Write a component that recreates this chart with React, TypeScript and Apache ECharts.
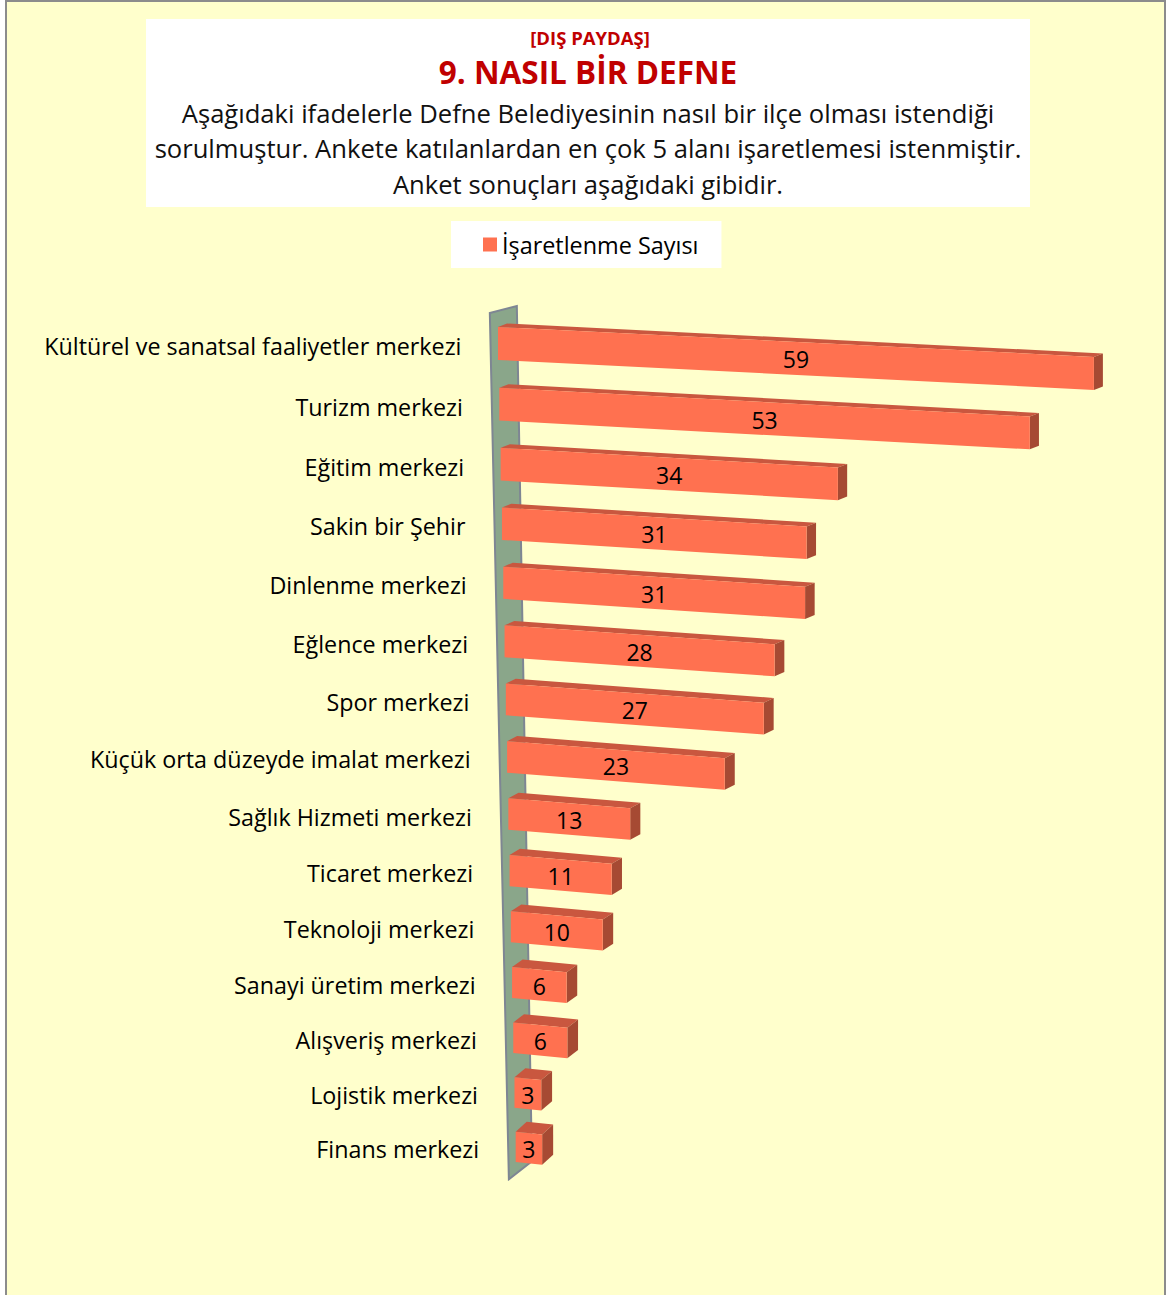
import React, { useEffect, useRef } from "react";
import * as echarts from "echarts";

const categories = [
  "Kültürel ve sanatsal faaliyetler merkezi",
  "Turizm merkezi",
  "Eğitim merkezi",
  "Sakin bir Şehir",
  "Dinlenme merkezi",
  "Eğlence merkezi",
  "Spor merkezi",
  "Küçük orta düzeyde imalat merkezi",
  "Sağlık Hizmeti merkezi",
  "Ticaret merkezi",
  "Teknoloji merkezi",
  "Sanayi üretim merkezi",
  "Alışveriş merkezi",
  "Lojistik merkezi",
  "Finans merkezi",
];
const values = [59, 53, 34, 31, 31, 28, 27, 23, 13, 11, 10, 6, 6, 3, 3];
const seriesName = "İşaretlenme Sayısı";
const headTag = "[DIŞ PAYDAŞ]";
const headTitle = "9. NASIL BİR DEFNE";
const headLines = [
  "Aşağıdaki ifadelerle Defne Belediyesinin nasıl bir ilçe olması istendiği",
  "sorulmuştur. Ankete katılanlardan en çok 5 alanı işaretlemesi istenmiştir.",
  "Anket sonuçları aşağıdaki gibidir.",
];

const FONT = "'Open Sans', 'Noto Sans', sans-serif";
const FRONT = "#FF7150";
const TOP = "#C9573F";
const SIDE = "#A64A33";

// perspective constants
const PB = 60.85; // px per row near the front
const PC = 0.00432; // row foreshortening
const XSHIFT = 0.022; // wall lean
const LEN_SHRINK = 0.009;
const SLOPE_Y0 = -395;
const SLOPE_D = 14700;

const rowY = (y0: number, v: number) => y0 + (PB * v) / (1 + PC * v);

export default function App() {
  const ref = useRef<HTMLDivElement>(null);
  useEffect(() => {
    if (!ref.current) return;
    const chart = echarts.init(ref.current, undefined, { renderer: "svg" });
    const n = categories.length;

    const option: any = {
      animation: false,
      backgroundColor: "#ffffff",
      grid: { left: 498, width: 606, top: 314.8, height: 861 },
      xAxis: { type: "value", min: 0, max: 60, show: false },
      yAxis: { type: "category", data: categories, inverse: true, show: false },
      legend: {
        data: [seriesName],
        left: 451,
        top: 221,
        backgroundColor: "#ffffff",
        padding: [12, 23, 12, 32],
        icon: "rect",
        itemWidth: 14,
        itemHeight: 14,
        textStyle: { fontSize: 23.4, fontFamily: FONT, color: "#000" },
      },
      graphic: [
        {
          type: "rect",
          z: -10,
          shape: { x: 6, y: 1, width: 1159, height: 1300 },
          style: { fill: "#FFFFCC", stroke: "#8C8C8C", lineWidth: 2 },
        },
        {
          type: "rect",
          z: -9,
          shape: { x: 146, y: 19, width: 884, height: 188 },
          style: { fill: "#ffffff" },
        },
        {
          type: "text",
          x: 590,
          y: 37,
          style: {
            text: headTag,
            align: "center",
            verticalAlign: "middle",
            font: `bold 18.5px ${FONT}`,
            fill: "#C00000",
          },
        },
        {
          type: "text",
          x: 588,
          y: 71.5,
          style: {
            text: headTitle,
            align: "center",
            verticalAlign: "middle",
            font: `bold 31.5px ${FONT}`,
            fill: "#C00000",
          },
        },
        ...headLines.map((t, i) => ({
          type: "text",
          x: 588,
          y: [113.5, 148.5, 184.5][i],
          style: {
            text: t,
            align: "center",
            verticalAlign: "middle",
            font: `25.6px ${FONT}`,
            fill: "#111111",
          },
        })),
      ],
      series: [
        {
          type: "custom",
          name: "wall",
          clip: false,
          silent: true,
          z: 1,
          data: [[0, 0]],
          renderItem: (params: any, api: any) => {
            const first = api.coord([0, 0]);
            const yT = rowY(first[1], -0.5);
            const yB = rowY(first[1], n - 1 + 0.6);
            const wl = (y: number) => first[0] - 7.5 + XSHIFT * (y - first[1]);
            return {
              type: "polygon",
              shape: {
                points: [
                  [wl(yT), yT],
                  [wl(yT) + 27, yT - 7],
                  [wl(yB) + 23, yB - 18],
                  [wl(yB), yB],
                ],
              },
              style: { fill: "#8AA68A", stroke: "#7E8693", lineWidth: 2 },
            };
          },
        },
        {
          type: "custom",
          name: seriesName,
          clip: false,
          z: 2,
          itemStyle: { color: FRONT },
          encode: { x: 0, y: 1 },
          data: values.map((v, i) => [v, i]),
          renderItem: (params: any, api: any) => {
            const idx = api.value(1);
            const val = api.value(0);
            const first = api.coord([0, 0]);
            const p0 = api.coord([0, idx]);
            const p1 = api.coord([val, idx]);
            const band = api.size([0, 1])[1];
            const v = (p0[1] - first[1]) / band;
            const yc = rowY(first[1], v);
            const h = 33 - 0.2 * v;
            const x0 = p0[0] + XSHIFT * (yc - first[1]);
            const len = (p1[0] - p0[0]) * (1 - LEN_SHRINK * v);
            const s = (yc - SLOPE_Y0) / SLOPE_D;
            const dx = 9 + (2 * v) / 14;
            const dy = -(3.5 + 6.5 * Math.pow(v / 14, 2));
            const TL = [x0, yc - h / 2];
            const BL = [x0, yc + h / 2];
            const TR = [x0 + len, yc - h / 2 + len * s];
            const BR = [x0 + len, yc + h / 2 + len * s];
            const add = (p: number[]) => [p[0] + dx, p[1] + dy];
            return {
              type: "group",
              children: [
                {
                  type: "polygon",
                  shape: { points: [TL, TR, add(TR), add(TL)] },
                  style: { fill: TOP },
                },
                {
                  type: "polygon",
                  shape: { points: [TR, BR, add(BR), add(TR)] },
                  style: { fill: SIDE },
                },
                {
                  type: "polygon",
                  shape: { points: [TL, TR, BR, BL] },
                  style: { fill: FRONT },
                },
                {
                  type: "text",
                  x: x0 + len / 2,
                  y: yc + (len / 2) * s + 1,
                  style: {
                    text: String(val),
                    align: "center",
                    verticalAlign: "middle",
                    font: `23px ${FONT}`,
                    fill: "#000",
                  },
                },
                {
                  type: "text",
                  x: x0 - 7.5 - 29,
                  y: yc + 2.5,
                  style: {
                    text: categories[idx],
                    align: "right",
                    verticalAlign: "middle",
                    font: `23.3px ${FONT}`,
                    fill: "#000",
                  },
                },
              ],
            };
          },
        },
      ],
    };
    chart.setOption(option);
    return () => chart.dispose();
  }, []);
  return (
    <div
      ref={ref}
      style={{ position: "absolute", left: 0, top: 0, width: 1170, height: 1295 }}
    />
  );
}
